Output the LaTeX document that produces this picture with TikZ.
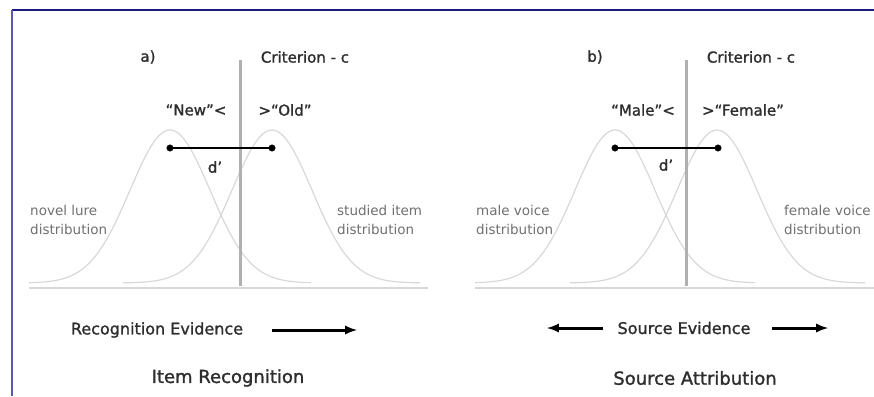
\documentclass[tikz,border=0pt]{standalone}
\usepackage{fontspec}
\setmainfont{DejaVu Sans}
\newfontfamily\heavyfont[FakeBold=1.4]{DejaVu Sans}
\usepackage{tikz}
\usetikzlibrary{arrows,positioning}

\definecolor{framenavy}{HTML}{1C1C7E}
\definecolor{frameside}{HTML}{5A5AA8}
\definecolor{txtdark}{HTML}{2E2E2E}
\definecolor{txtgrey}{HTML}{707070}
\definecolor{curvegrey}{HTML}{D8D8D8}
\definecolor{critgrey}{HTML}{B0B0B0}

\begin{document}
\begin{tikzpicture}[x=1pt,y=-1pt,
	lbl/.style={text=txtdark,inner sep=0pt,font=\heavyfont\fontsize{15}{17}\selectfont},
	distlbl/.style={text=txtgrey,inner sep=0pt,align=left,anchor=west,font=\fontsize{13.5}{19}\selectfont},
	evid/.style={text=txtdark,inner sep=0pt,font=\heavyfont\fontsize{16}{18}\selectfont},
	ttl/.style={text=txtdark,inner sep=0pt,font=\heavyfont\fontsize{18}{20}\selectfont},
	dpt/.style={fill=black,draw=black,circle,inner sep=0pt,minimum size=6.5pt},
	curve/.style={draw=curvegrey,line width=1.2pt},
	crit/.style={draw=critgrey,line width=3pt},
	axis/.style={draw=curvegrey,line width=2pt},
	bigarrow/.style={-latex,line width=3pt,black}]
	\useasboundingbox (0,0) rectangle (874,396);
	% frame
	\draw[framenavy,line width=1.5pt] (12,10) -- (874,10);
	\draw[frameside,line width=1.5pt] (12,10) -- (12,396);
	%% panel a) item recognition
	\draw[curve] plot[domain=29:311,samples=90] (\x,{283-153*exp(-0.5*((\x-170)/40)^2)});
	\draw[curve] plot[domain=123:420,samples=90] (\x,{283-153*exp(-0.5*((\x-272)/40)^2)});
	\draw[axis] (29,288) -- (428,288);
	\coordinate (critAtop) at (240,60);
	\coordinate (critAbot) at (240,286);
	\draw[crit] (critAtop) -- (critAbot);
	\node[lbl] (labA) at (148,57) {a)};
	\node[lbl] (critA) at (305,57) {Criterion - c};
	\node[lbl] (newA) at (196,110) {“New”<};
	\node[lbl] (oldA) at (285,110) {>“Old”};
	\node[dpt] (lureA) at (170,148) {};
	\node[dpt] (studA) at (272,148) {};
	\draw[black,line width=2pt] (lureA) -- (studA);
	\node[lbl] (dA) at (215,167) {d’};
	\node[distlbl] (lureTxt) at (30,220) {novel lure\\distribution};
	\node[distlbl] (studTxt) at (337,220) {studied item\\distribution};
	\node[evid] (recEv) at (157,330) {Recognition Evidence};
	\coordinate (recArrA) at (272,330);
	\coordinate (recArrB) at (357,330);
	\draw[bigarrow] (recArrA) -- (recArrB);
	\node[ttl] (itemRec) at (228,378) {Item Recognition};
	%% panel b) source attribution
	\draw[curve] plot[domain=475:755,samples=90] (\x,{283-153*exp(-0.5*((\x-615)/40)^2)});
	\draw[curve] plot[domain=570:865,samples=90] (\x,{283-153*exp(-0.5*((\x-717)/40)^2)});
	\draw[axis] (475,288) -- (874,288);
	\coordinate (critBtop) at (686,60);
	\coordinate (critBbot) at (686,286);
	\draw[crit] (critBtop) -- (critBbot);
	\node[lbl] (labB) at (595,57) {b)};
	\node[lbl] (critB) at (751,57) {Criterion - c};
	\node[lbl] (maleB) at (643,110) {“Male”<};
	\node[lbl] (femB) at (743,110) {>“Female”};
	\node[dpt] (maleDot) at (615,148) {};
	\node[dpt] (femDot) at (718,148) {};
	\draw[black,line width=2pt] (maleDot) -- (femDot);
	\node[lbl] (dB) at (666,165) {d’};
	\node[distlbl] (maleTxt) at (476,220) {male voice\\distribution};
	\node[distlbl] (femTxt) at (784,220) {female voice\\distribution};
	\node[evid] (srcEv) at (684,328) {Source Evidence};
	\coordinate (srcLa) at (603,328);
	\coordinate (srcLb) at (547,328);
	\coordinate (srcRa) at (772,328);
	\coordinate (srcRb) at (828,328);
	\draw[bigarrow] (srcLa) -- (srcLb);
	\draw[bigarrow] (srcRa) -- (srcRb);
	\node[ttl] (srcAttr) at (695,378) {Source Attribution};
\end{tikzpicture}
\end{document}
